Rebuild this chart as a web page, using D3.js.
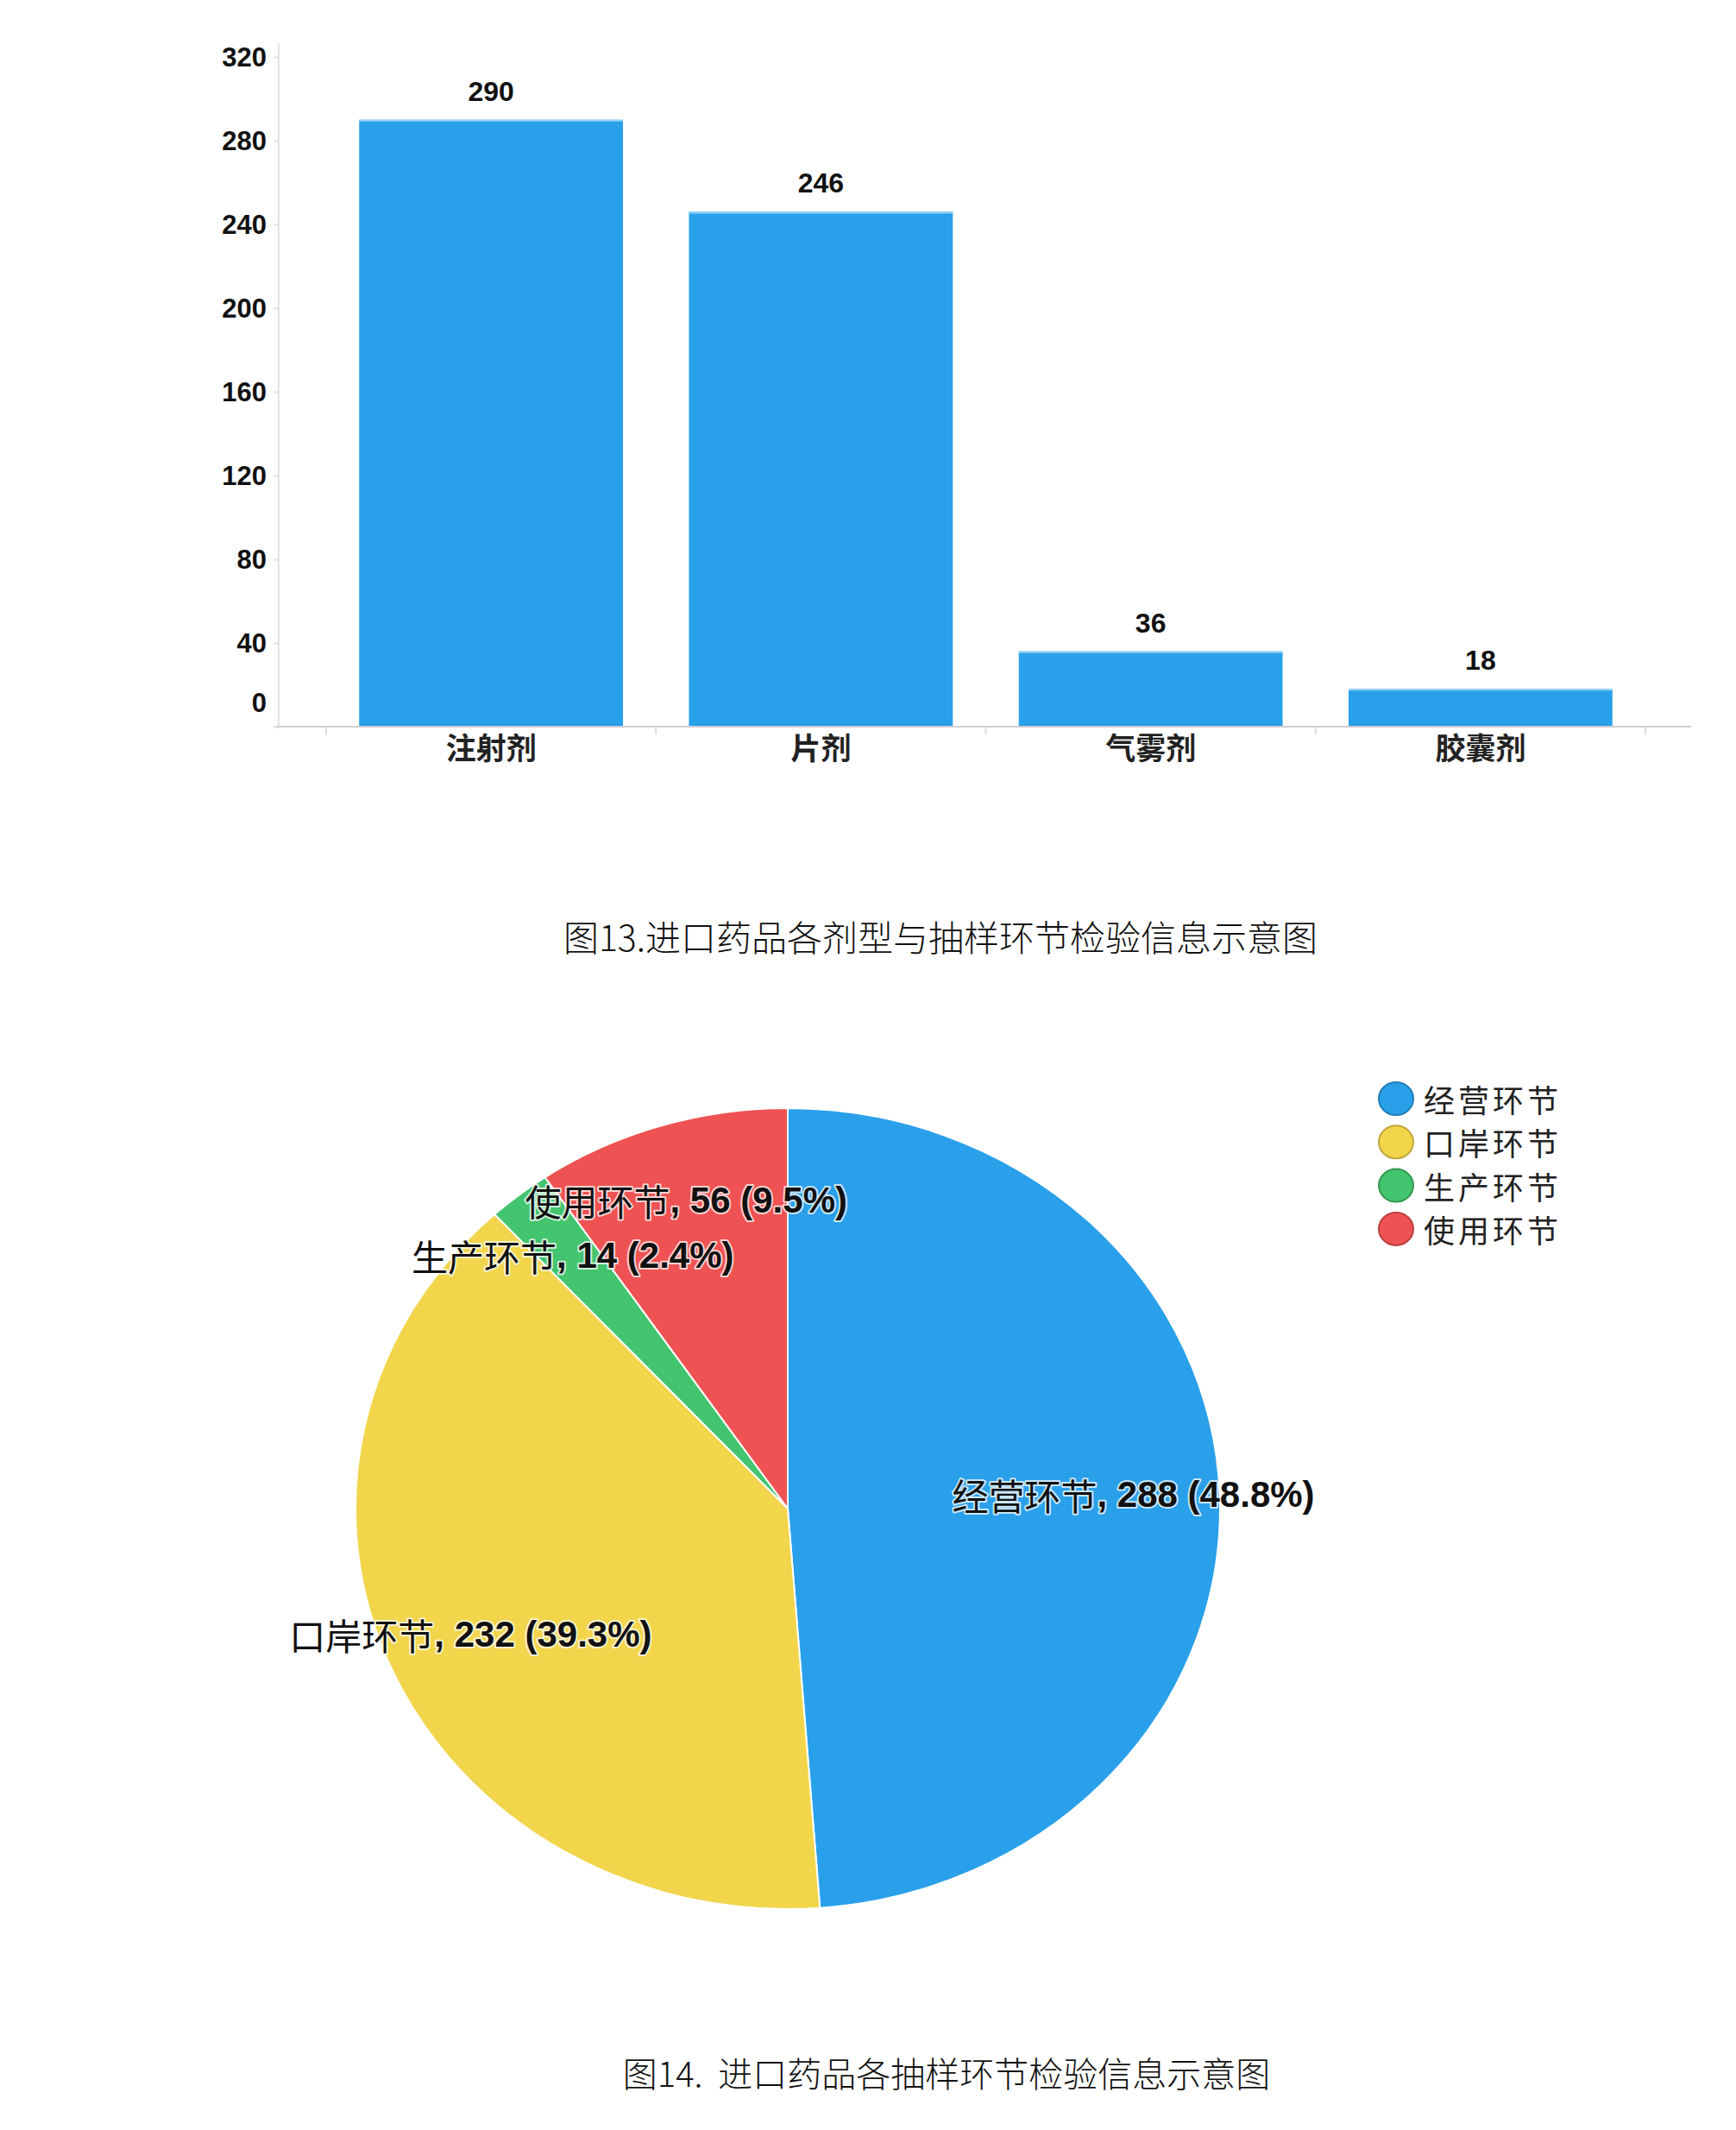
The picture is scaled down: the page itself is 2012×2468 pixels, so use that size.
<!DOCTYPE html>
<html>
<head>
<meta charset="utf-8">
<script src="https://cdn.jsdelivr.net/npm/d3@7"></script>
<style>
  body { margin: 0; background: #fff; }
  svg { display: block; }
</style>
</head>
<body>
<div id="chart"></div>
<script>
// bar chart data (figure 13)
const categories = ['注射剂', '片剂', '气雾剂', '胶囊剂']
const counts = [290, 246, 36, 18]
const yTicks = [0, 40, 80, 120, 160, 200, 240, 280, 320]

// pie chart data (figure 14)
const stages = ['经营环节', '口岸环节', '生产环节', '使用环节']
const stageCounts = [288, 232, 14, 56]
const stageColors = ['#2aa0ea', '#f2d54b', '#43c46f', '#ef5252']

const captions = ['图13.进口药品各剂型与抽样环节检验信息示意图', '图14.  进口药品各抽样环节检验信息示意图']

const W = 2012
const H = 2468
const cjk = '"Noto Sans CJK SC", "Noto Sans", sans-serif'
const latin = '"Liberation Sans", Arial, sans-serif'

const svg = d3.select('#chart').append('svg')
  .attr('width', W)
  .attr('height', H)

svg.append('rect').attr('width', W).attr('height', H).attr('fill', '#fff')

// ---------- bar chart ----------
const x = d3.scaleBand()
  .domain(categories)
  .range([378, 1907])
  .paddingInner(0.2)
  .paddingOuter(0.1)

const y = d3.scaleLinear()
  .domain([0, 320])
  .range([842, 66])

const bars = svg.append('g')

// y axis line (extends a little above the top tick)
bars.append('line')
  .attr('x1', 323).attr('x2', 323)
  .attr('y1', 50).attr('y2', y(0))
  .attr('stroke', '#e2e2e2')
  .attr('stroke-width', 2)

const yAxis = d3.axisLeft(y)
  .tickValues(yTicks)
  .tickSize(6)
  .tickPadding(8)

const yG = bars.append('g')
  .attr('transform', 'translate(323,0)')
  .call(yAxis)
yG.select('.domain').remove()
yG.selectAll('.tick line').attr('stroke', '#e2e2e2').attr('stroke-width', 2)
yG.selectAll('.tick text')
  .attr('fill', '#111')
  .style('font-family', latin)
  .style('font-weight', 'bold')
  .style('font-size', '31px')
  .attr('dy', d => d === 0 ? '-0.55em' : '0.34em') // zero label sits above the baseline

// bars
bars.selectAll('.bar')
  .data(counts)
  .enter()
  .append('rect')
  .attr('class', 'bar')
  .attr('x', (d, i) => x(categories[i]))
  .attr('y', d => y(d))
  .attr('width', x.bandwidth())
  .attr('height', d => y(0) - y(d))
  .attr('fill', '#29a0ea')

// thin light edge on bar tops
bars.selectAll('.bar-top')
  .data(counts)
  .enter()
  .append('line')
  .attr('x1', (d, i) => x(categories[i]))
  .attr('x2', (d, i) => x(categories[i]) + x.bandwidth())
  .attr('y1', d => y(d) + 1)
  .attr('y2', d => y(d) + 1)
  .attr('stroke', '#8fd2f8')
  .attr('stroke-width', 2)

// value labels
bars.selectAll('.value')
  .data(counts)
  .enter()
  .append('text')
  .attr('x', (d, i) => x(categories[i]) + x.bandwidth() / 2)
  .attr('y', d => y(d) - 22)
  .attr('text-anchor', 'middle')
  .attr('fill', '#111')
  .style('font-family', latin)
  .style('font-weight', 'bold')
  .style('font-size', '32px')
  .text(d => d)

// x axis baseline
bars.append('line')
  .attr('x1', 320).attr('x2', 1960)
  .attr('y1', y(0)).attr('y2', y(0))
  .attr('stroke', '#cfcfcf')
  .attr('stroke-width', 2)

// ticks between categories
const bounds = categories.map(c => x(c) - x.step() * 0.1)
bounds.push(x(categories[categories.length - 1]) + x.bandwidth() + x.step() * 0.1)
bars.selectAll('.xtick')
  .data(bounds)
  .enter()
  .append('line')
  .attr('x1', d => d).attr('x2', d => d)
  .attr('y1', y(0)).attr('y2', y(0) + 9)
  .attr('stroke', '#dcdcdc')
  .attr('stroke-width', 2)

const xG = bars.append('g')
  .attr('transform', `translate(0,${y(0)})`)
  .call(d3.axisBottom(x).tickSize(0))
xG.select('.domain').remove()
xG.selectAll('.tick text')
  .attr('y', 38)
  .attr('dy', 0)
  .attr('fill', '#222')
  .style('font-family', cjk)
  .style('font-weight', 'bold')
  .style('font-size', '35px')

// caption 13
svg.append('text')
  .attr('x', 1090)
  .attr('y', 1102)
  .attr('text-anchor', 'middle')
  .attr('fill', '#111')
  .style('font-family', cjk)
  .style('font-weight', 300)
  .style('font-size', '41px')
  .text(captions[0])

// ---------- pie chart ----------
const cx = 913
const cy = 1748
const ry = 464
const sx = 501 / 464 // pie is drawn slightly stretched horizontally
const total = d3.sum(stageCounts)

const pieData = d3.pie().sort(null)(stageCounts)
const arc = d3.arc().innerRadius(0).outerRadius(ry)
const labelArc = d3.arc().innerRadius(ry * 0.8).outerRadius(ry * 0.8)

const pieG = svg.append('g')
  .attr('transform', `translate(${cx},${cy}) scale(${sx},1)`)

pieG.selectAll('path')
  .data(pieData)
  .enter()
  .append('path')
  .attr('d', arc)
  .attr('fill', (d, i) => stageColors[i])
  .attr('stroke', '#fff')
  .attr('stroke-width', 2)
  .attr('vector-effect', 'non-scaling-stroke')

// slice labels
const labels = svg.append('g')
  .selectAll('text')
  .data(pieData)
  .enter()
  .append('text')
  .attr('x', d => cx + labelArc.centroid(d)[0] * sx)
  .attr('y', d => cy + labelArc.centroid(d)[1] - 3)
  .attr('text-anchor', 'middle')
  .attr('dominant-baseline', 'central')
  .attr('fill', '#111')
  .attr('stroke', '#fff')
  .attr('stroke-opacity', 0.75)
  .attr('stroke-width', 4)
  .attr('stroke-linejoin', 'round')
  .attr('paint-order', 'stroke')
  .style('font-size', '42px')

labels.append('tspan')
  .style('font-family', cjk)
  .text((d, i) => stages[i])
labels.append('tspan')
  .style('font-family', latin)
  .style('font-weight', 'bold')
  .text(d => `, ${d.data} (${(d.data / total * 100).toFixed(1)}%)`)

// legend
const legend = svg.append('g')
  .selectAll('g')
  .data(stages)
  .enter()
  .append('g')
  .attr('transform', (d, i) => `translate(1618,${1273 + i * 50.3})`)

legend.append('ellipse')
  .attr('rx', 20)
  .attr('ry', 19)
  .attr('fill', (d, i) => stageColors[i])
  .attr('stroke', (d, i) => d3.color(stageColors[i]).darker(0.7))
  .attr('stroke-width', 2)

legend.append('text')
  .attr('x', 32)
  .attr('dominant-baseline', 'central')
  .attr('fill', '#222')
  .style('font-family', cjk)
  .style('font-size', '36px')
  .style('letter-spacing', '4px')
  .text(d => d)

// caption 14
svg.append('text')
  .attr('x', 1097)
  .attr('y', 2418)
  .attr('text-anchor', 'middle')
  .attr('fill', '#111')
  .style('font-family', cjk)
  .style('font-weight', 300)
  .style('font-size', '40px')
  .style('white-space', 'pre')
  .text(captions[1])
</script>
</body>
</html>
